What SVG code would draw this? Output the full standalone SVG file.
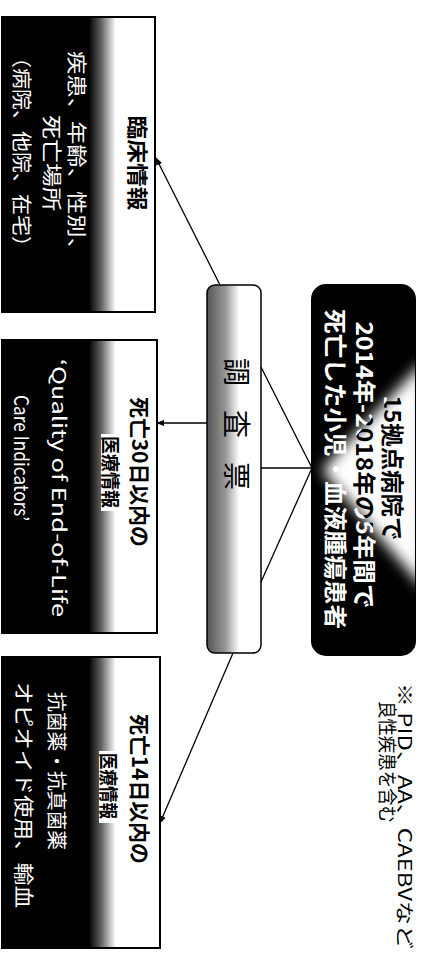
<svg xmlns="http://www.w3.org/2000/svg" width="422" height="956" viewBox="0 0 422 956">
<defs>
<style>
text{font-family:"Noto Sans CJK JP","Noto Sans",sans-serif;}
.t{dominant-baseline:central;text-anchor:middle;}
.s{dominant-baseline:central;text-anchor:start;}
.b{font-weight:bold;}
.w{fill:#fff;}
.k{fill:#000;}
.box{stroke:#000;stroke-width:2;fill:url(#dark);}
.conn line{stroke:#000;stroke-width:1.3;}
.arr{marker-end:url(#ah);}
</style>
<linearGradient id="dark" gradientUnits="userSpaceOnUse" x1="2" y1="0" x2="160" y2="0">
<stop offset="0" stop-color="#000"/>
<stop offset="0.55" stop-color="#000"/>
<stop offset="0.63" stop-color="#666"/>
<stop offset="0.72" stop-color="#fff"/>
<stop offset="1" stop-color="#fff"/>
</linearGradient>
<linearGradient id="gray" gradientUnits="userSpaceOnUse" x1="207" y1="0" x2="261" y2="0">
<stop offset="0" stop-color="#555"/>
<stop offset="0.35" stop-color="#999"/>
<stop offset="0.6" stop-color="#fff"/>
<stop offset="1" stop-color="#fff"/>
</linearGradient>
<filter id="blur" x="-50%" y="-50%" width="200%" height="200%"><feGaussianBlur stdDeviation="7"/></filter>
<clipPath id="topclip"><rect x="312" y="285" width="103" height="370" rx="14"/></clipPath>
<clipPath id="lightclip"><polygon points="416,368 326,470 416,580"/></clipPath>
<marker id="ah" viewBox="0 0 10 10" refX="9" refY="5" markerWidth="8" markerHeight="8" orient="auto" markerUnits="userSpaceOnUse"><path d="M0,1 L10,5 L0,9 z" fill="#000"/></marker>
</defs>
<rect width="422" height="956" fill="#fff"/>

<g id="top">
<rect x="312" y="285" width="103" height="370" rx="14" fill="#000" stroke="#000" stroke-width="2"/>
<g clip-path="url(#topclip)"><polygon points="425,360 322,470 425,590" fill="#fff" filter="url(#blur)"/></g>
<g class="b">
<text class="t w" transform="translate(394,468) rotate(90)" font-size="23" textLength="145" lengthAdjust="spacingAndGlyphs">15拠点病院で</text>
<text class="t w" transform="translate(366,465) rotate(90)" font-size="23" textLength="287" lengthAdjust="spacingAndGlyphs">2014年-2018年の5年間で</text>
<text class="t w" transform="translate(337,469) rotate(90)" font-size="23" textLength="320" lengthAdjust="spacingAndGlyphs">死亡した小児・血液腫瘍患者</text>
<g clip-path="url(#lightclip)">
<text class="t k" transform="translate(394,468) rotate(90)" font-size="23" textLength="145" lengthAdjust="spacingAndGlyphs">15拠点病院で</text>
<text class="t k" transform="translate(366,465) rotate(90)" font-size="23" textLength="287" lengthAdjust="spacingAndGlyphs">2014年-2018年の5年間で</text>
</g>
</g>
</g>

<g id="survey">
<rect x="207" y="285" width="54" height="368" rx="8" fill="url(#gray)" stroke="#000" stroke-width="1.5"/>
<text class="t k" transform="translate(238,372) rotate(90)" font-size="28">調</text>
<text class="t k" transform="translate(238,424) rotate(90)" font-size="28">査</text>
<text class="t k" transform="translate(238,476) rotate(90)" font-size="28">票</text>
</g>

<g id="clinical">
<rect class="box" x="2" y="17" width="153" height="295"/>
<text class="t k b" transform="translate(139,163) rotate(90)" font-size="21" textLength="95" lengthAdjust="spacingAndGlyphs">臨床情報</text>
<text class="t w" transform="translate(77,156) rotate(90)" font-size="20" textLength="210" lengthAdjust="spacingAndGlyphs">疾患、年齢、性別、</text>
<text class="t w" transform="translate(52,163) rotate(90)" font-size="20" textLength="96" lengthAdjust="spacingAndGlyphs">死亡場所</text>
<text class="t w" transform="translate(22,152) rotate(90)" font-size="20" textLength="210" lengthAdjust="spacingAndGlyphs">（病院、他院、在宅）</text>
</g>

<g id="med30">
<rect class="box" x="2" y="340" width="155" height="293"/>
<text class="t k b" transform="translate(141,472) rotate(90)" font-size="21" textLength="150" lengthAdjust="spacingAndGlyphs">死亡30日以内の</text>
<rect x="101" y="434" width="21" height="77" fill="#fff"/>
<text class="t k b" transform="translate(111,472) rotate(90)" font-size="19" textLength="72" lengthAdjust="spacingAndGlyphs">医療情報</text>
<text class="s w" transform="translate(60,359) rotate(90)" font-size="19" textLength="258" lengthAdjust="spacingAndGlyphs">‘Quality of End-of-Life</text>
<text class="s w" transform="translate(22,395) rotate(90)" font-size="20" textLength="126" lengthAdjust="spacingAndGlyphs">Care Indicators’</text>
</g>

<g id="med14">
<rect class="box" x="2" y="657" width="158" height="291"/>
<text class="t k b" transform="translate(141,789) rotate(90)" font-size="21" textLength="150" lengthAdjust="spacingAndGlyphs">死亡14日以内の</text>
<rect x="99" y="751" width="21" height="72" fill="#fff"/>
<text class="t k b" transform="translate(109,786) rotate(90)" font-size="19" textLength="66" lengthAdjust="spacingAndGlyphs">医療情報</text>
<text class="t w" transform="translate(57,771) rotate(90)" font-size="20" textLength="158" lengthAdjust="spacingAndGlyphs">抗菌薬・抗真菌薬</text>
<text class="t w" transform="translate(24,795) rotate(90)" font-size="20" textLength="226" lengthAdjust="spacingAndGlyphs">オピオイド使用、輸血</text>
</g>

<g id="note">
<text class="s k" transform="translate(406,683) rotate(90)" font-size="18" textLength="266" lengthAdjust="spacingAndGlyphs">※ PID、AA、CAEBVなど</text>
<text class="s k" transform="translate(388,701) rotate(90)" font-size="19" textLength="122" lengthAdjust="spacingAndGlyphs">良性疾患を含む</text>
</g>

<g id="connectors" class="conn">
<line x1="312" y1="468" x2="261" y2="367"/>
<line x1="312" y1="468" x2="261" y2="468"/>
<line x1="312" y1="468" x2="261" y2="582"/>
<line class="arr" x1="207" y1="423" x2="157" y2="423"/>
<line class="arr" x1="220" y1="285" x2="156" y2="158"/>
<line class="arr" x1="233" y1="653" x2="160" y2="823"/>
</g>
</svg>
